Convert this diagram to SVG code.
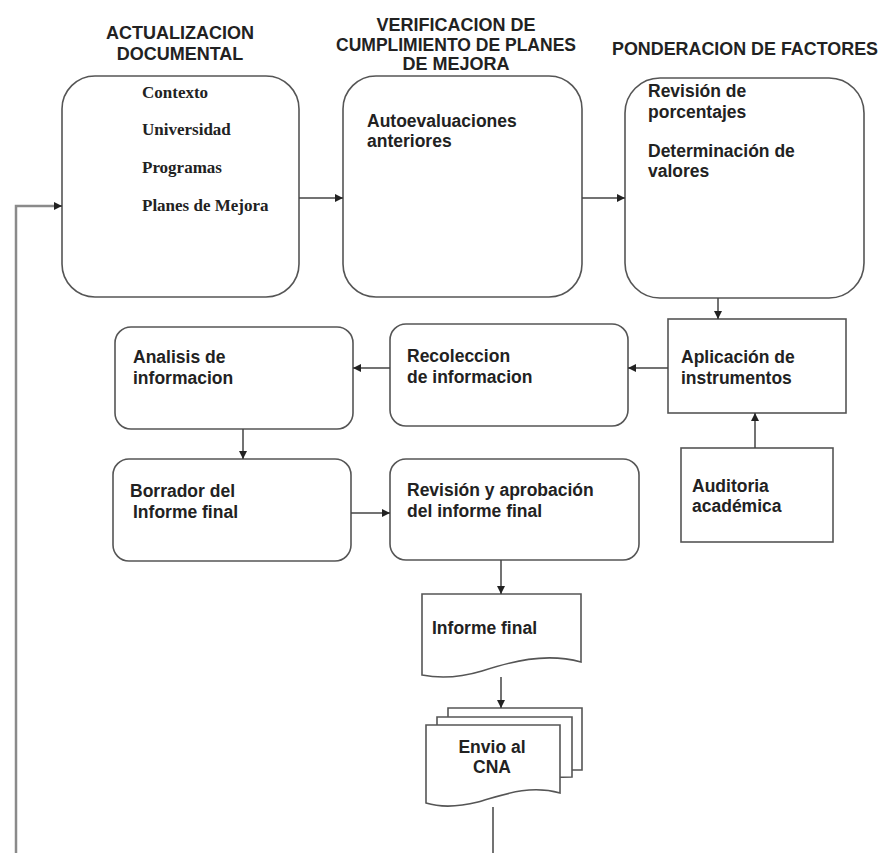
<svg xmlns="http://www.w3.org/2000/svg" width="881" height="853" viewBox="0 0 881 853">
<style>
.box{fill:#fff;stroke:#555;stroke-width:1.6}
.hdr{font-family:"Liberation Sans",Arial,sans-serif;font-weight:bold;font-size:18px;fill:#222;text-anchor:middle}
.t{font-family:"Liberation Sans",Arial,sans-serif;font-weight:bold;font-size:17.5px;fill:#222}
.s{font-family:"Liberation Serif","Times New Roman",serif;font-weight:bold;font-size:17px;fill:#222}
.c{fill:none;stroke:#444;stroke-width:1.5}
</style>
<defs>
<marker id="ah" viewBox="0 0 10 10" refX="10" refY="5" markerWidth="8" markerHeight="8" markerUnits="userSpaceOnUse" orient="auto">
<path d="M0,0 L10,5 L0,10 Z" fill="#222"/>
</marker>
</defs>
<rect width="881" height="853" fill="#fff"/>

<g id="headers">
<text class="hdr" x="180" y="39">ACTUALIZACION</text>
<text class="hdr" x="180" y="60">DOCUMENTAL</text>
<text class="hdr" x="456" y="31">VERIFICACION DE</text>
<text class="hdr" x="456" y="51" textLength="240" lengthAdjust="spacingAndGlyphs">CUMPLIMIENTO DE PLANES</text>
<text class="hdr" x="456" y="70">DE MEJORA</text>
<text class="hdr" x="745" y="55" textLength="266" lengthAdjust="spacingAndGlyphs">PONDERACION DE FACTORES</text>
</g>

<g id="actualizacion">
<rect class="box" x="62" y="76" width="237" height="221" rx="33"/>
<text class="s" x="142" y="98">Contexto</text>
<text class="s" x="142" y="135">Universidad</text>
<text class="s" x="142" y="173">Programas</text>
<text class="s" x="142" y="211">Planes de Mejora</text>
</g>

<g id="verificacion">
<rect class="box" x="343" y="76" width="239" height="221" rx="33"/>
<text class="t" x="367" y="127">Autoevaluaciones</text>
<text class="t" x="367" y="147">anteriores</text>
</g>

<g id="ponderacion">
<rect class="box" x="625" y="78" width="239" height="220" rx="35"/>
<text class="t" x="648" y="97">Revisión de</text>
<text class="t" x="648" y="118">porcentajes</text>
<text class="t" x="648" y="157">Determinación de</text>
<text class="t" x="648" y="177">valores</text>
</g>

<g id="aplicacion">
<rect class="box" x="668" y="319" width="178" height="94"/>
<text class="t" x="681" y="363">Aplicación de</text>
<text class="t" x="681" y="384">instrumentos</text>
</g>

<g id="recoleccion">
<rect class="box" x="390" y="324" width="238" height="102" rx="16"/>
<text class="t" x="407" y="362">Recoleccion</text>
<text class="t" x="407" y="383">de informacion</text>
</g>

<g id="analisis">
<rect class="box" x="115" y="327" width="238" height="102" rx="16"/>
<text class="t" x="133" y="363">Analisis de</text>
<text class="t" x="133" y="384">informacion</text>
</g>

<g id="borrador">
<rect class="box" x="113" y="459" width="238" height="102" rx="16"/>
<text class="t" x="130" y="497">Borrador del</text>
<text class="t" x="133" y="518">Informe final</text>
</g>

<g id="revision">
<rect class="box" x="390" y="459" width="249" height="101" rx="16"/>
<text class="t" x="407" y="496">Revisión y aprobación</text>
<text class="t" x="407" y="517">del informe final</text>
</g>

<g id="auditoria">
<rect class="box" x="681" y="448" width="152" height="94"/>
<text class="t" x="692" y="492">Auditoria</text>
<text class="t" x="692" y="512">académica</text>
</g>

<g id="informe-final">
<path class="box" d="M422,594 H581 V662 C545,652 510,662 482,671 C462,677 442,679 422,675 Z"/>
<text class="t" x="432" y="634">Informe final</text>
</g>

<g id="envio-cna">
<path class="box" d="M448,708 H582 V770 L448,770 Z"/>
<path class="box" d="M437,717 H572 V777 L437,780 Z"/>
<path class="box" d="M426,725 H560 V793 C528,784 500,796 478,802 C462,806 442,808 426,803 Z"/>
<text class="t" x="492" y="753" text-anchor="middle">Envio al</text>
<text class="t" x="492" y="773" text-anchor="middle">CNA</text>
</g>

<g id="connectors">
<line class="c" x1="299" y1="198" x2="343" y2="198" marker-end="url(#ah)"/>
<line class="c" x1="582" y1="198" x2="625" y2="198" marker-end="url(#ah)"/>
<line class="c" x1="718" y1="298" x2="718" y2="319" marker-end="url(#ah)"/>
<line class="c" x1="668" y1="368" x2="628" y2="368" marker-end="url(#ah)"/>
<line class="c" x1="390" y1="368" x2="353" y2="368" marker-end="url(#ah)"/>
<line class="c" x1="243" y1="429" x2="243" y2="459" marker-end="url(#ah)"/>
<line class="c" x1="351" y1="513" x2="390" y2="513" marker-end="url(#ah)"/>
<line class="c" x1="755" y1="448" x2="755" y2="413" marker-end="url(#ah)"/>
<line class="c" x1="501" y1="560" x2="501" y2="594" marker-end="url(#ah)"/>
<line class="c" x1="501" y1="677" x2="501" y2="708" marker-end="url(#ah)"/>
<line class="c" x1="493" y1="807" x2="493" y2="853"/>
<path d="M16,853 V206 H55" fill="none" stroke="#8a8a8a" stroke-width="2.5"/>
<line class="c" x1="54" y1="206" x2="62" y2="206" marker-end="url(#ah)"/>
</g>
</svg>
